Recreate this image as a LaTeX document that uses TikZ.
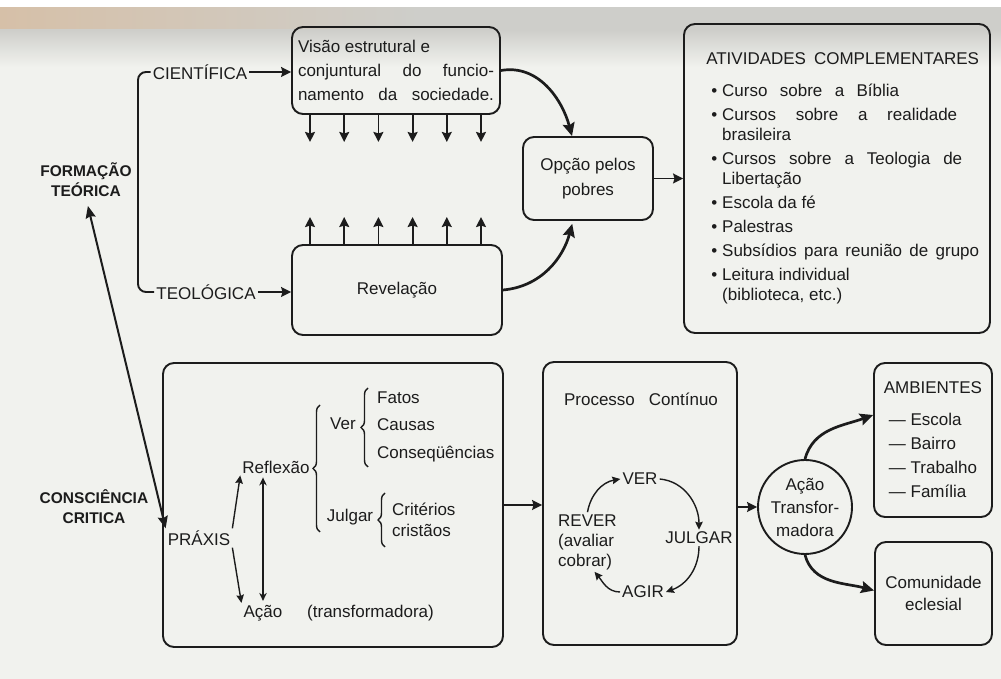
\documentclass[tikz,border=0pt]{standalone}
\usepackage{fontspec}
\setmainfont{Liberation Sans}
\usetikzlibrary{arrows.meta,positioning,calc,decorations.pathreplacing,shapes.geometric}
\definecolor{ink}{RGB}{28,28,28}
\definecolor{paper}{RGB}{241,242,238}
\definecolor{bandtan}{RGB}{214,192,168}
\definecolor{bandgray}{RGB}{206,206,202}
\newcommand{\txt}{\fontsize{17}{20}\selectfont}
\newcommand{\spread}[2]{\makebox[#1][s]{#2}}
\tikzset{
  box/.style={draw=ink, rounded corners=11pt, line width=1.9pt, inner sep=0pt,
              font=\txt, text=ink},
  lbl/.style={font=\txt, text=ink, inner sep=2pt},
  headlbl/.style={font=\fontsize{15.5}{20}\selectfont\bfseries, text=ink,
                  align=center, inner sep=1pt},
  wire/.style={draw=ink, line width=1.9pt},
  arrow/.style={-{Stealth[length=10pt,width=10pt,inset=1.5pt]}, line width=1.8pt, draw=ink},
  bigarrow/.style={-{Stealth[length=13pt,width=12pt,inset=2pt]}, line width=2.7pt, draw=ink},
  thinarrow/.style={-{Stealth[length=8pt,width=7.5pt,inset=1pt]}, line width=1.4pt, draw=ink},
  dblarrow/.style={{Stealth[length=12pt,width=10pt,inset=1.5pt]}-{Stealth[length=12pt,width=10pt,inset=1.5pt]},
                   line width=2pt, draw=ink},
  thindbl/.style={{Stealth[length=8pt,width=7.5pt]}-{Stealth[length=8pt,width=7.5pt]},
                  line width=1.5pt, draw=ink},
  curly/.style={draw=ink, line width=1.4pt, decorate, decoration={brace, amplitude=7pt}},
}

\begin{document}
\begin{tikzpicture}[x=1pt, y=1pt]

% ============================ paper ===================================
\fill[paper] (0,0) rectangle (1001,679);
\shade[left color=bandtan, right color=bandgray] (0,649) rectangle (420,672);
\fill[bandgray] (420,649) rectangle (1001,672);
\shade[top color=bandgray, bottom color=paper] (0,612) rectangle (1001,649.5);
\fill[white] (0,672) rectangle (1001,679);
\useasboundingbox (0,0) rectangle (1001,679);

% ============================ formação teórica ========================
\node[box, minimum width=208pt, minimum height=87pt, align=left] (vis) at (396,608.5)
  {Visão estrutural e\\[4pt]\spread{196pt}{conjuntural do funcio-}\\[4pt]%
   \spread{196pt}{namento da sociedade.}};
\node[box, minimum width=210pt, minimum height=90pt] (rev) at (397,389) {Revelação};

\node[lbl] (cient) at (200,607) {CIENTÍFICA};
\node[lbl] (teol) at (206,387) {TEOLÓGICA};
\node[headlbl] (form) at (86,499) {FORMAÇÃO\\TEÓRICA};

\coordinate (fork) at (138,0);
\draw[wire, rounded corners=8pt] (cient.west) -- (cient.west -| fork)
  -- (teol.west -| fork) -- (teol.west);
\draw[arrow] (cient.east) -- (cient.east -| vis.west);
\draw[arrow] (teol.east) -- (teol.east -| rev.west);

% the two sources feed each other
\foreach \k in {0,...,5} {
  \draw[arrow] ([xshift=\k*34.2pt-86pt]vis.south) -- ++(0,-27);
  \draw[arrow] ([xshift=\k*34.2pt-87pt]rev.north) -- ++(0,27);
}

\node[box, minimum width=130pt, minimum height=83pt, align=center] (opc) at (588,500.5)
  {Opção pelos\\[5pt]pobres};
\draw[bigarrow] (vis.east) to[out=10, in=105] ([xshift=-16pt]opc.north);
\draw[bigarrow, shorten >=3pt] (rev.east) to[out=5, in=-105] ([xshift=-15pt]opc.south);

% ============================ atividades ===============================
\node[box, minimum width=306pt, minimum height=309pt] (ativ) at (837,500.5) {};
\node[lbl, anchor=north west, inner sep=0pt] (ativtxt) at ([xshift=23pt,yshift=-27pt]ativ.north west)
  {\begin{tabular}{@{\hspace{5pt}}l@{\hspace{5pt}}l@{}}
   \multicolumn{2}{@{}l@{}}{ATIVIDADES\hspace{8pt}COMPLEMENTARES}\\[12pt]
   \textbullet & \spread{177pt}{Curso sobre a Bíblia}\\[4pt]
   \textbullet & \spread{235pt}{Cursos sobre a realidade}\\
               & brasileira\\[4pt]
   \textbullet & \spread{240pt}{Cursos sobre a Teologia de}\\
               & Libertação\\[4pt]
   \textbullet & Escola da fé\\[4pt]
   \textbullet & Palestras\\[4pt]
   \textbullet & \spread{257pt}{Subsídios para reunião de grupo}\\[4pt]
   \textbullet & Leitura individual\\
               & (biblioteca, etc.)
   \end{tabular}};
\draw[arrow] (opc.east) -- (ativ.west |- opc.east);

% ============================ consciência crítica =====================
\node[box, minimum width=340pt, minimum height=284pt] (pbox) at (333,174) {};
\node[headlbl] (consc) at (94,172) {CONSCIÊNCIA\\CRITICA};

\node[lbl] (prx) at (199,141) {PRÁXIS};
\node[lbl] (refl) at (276,212) {Reflexão};
\node[lbl] (acn) at (263,66) {Ação};
\node[lbl, anchor=west] (trf) at (305,66) {(transformadora)};
\node[lbl] (ver) at (343,255) {Ver};
\node[lbl, anchor=west, align=left] (vfacts) at (375,252.5)
  {Fatos\\[7.5pt]Causas\\[7.5pt]Conseqüências};
\node[lbl] (julg) at (350,162) {Julgar};
\node[lbl, anchor=west, align=left] (jcrit) at (390,159.5) {Critérios\\[1pt]cristãos};

\draw[curly] (320,147) -- (320,274);
\draw[curly] (368,212) -- (368,291);
\draw[curly] (385,132) -- (385,186);

\draw[thinarrow] (prx.north east) -- (refl.south west);
\draw[thinarrow] (prx.south east) -- (acn.north west);
\draw[thindbl, shorten >=2pt, shorten <=2pt] (acn.north |- refl.south) -- (acn.north);
\draw[dblarrow, shorten <=8pt] (form.south) -- (prx.north west);

% ============================ processo contínuo =======================
\node[box, minimum width=194pt, minimum height=283pt] (proc) at (640,175.5) {};
\node[lbl] (proct) at (641,280) {Processo\hspace{14pt}Contínuo};
\node[lbl] (cver) at (640,200) {VER};
\node[lbl] (cjul) at (699,141) {JULGAR};
\node[lbl] (cagi) at (643,87) {AGIR};
\node[lbl, anchor=west, align=left] (crev) at (556,137) {REVER\\(avaliar\\cobrar)};

\draw[thinarrow] (cver.east) to[out=-5, in=90] (cjul.north);
\draw[thinarrow] (cjul.south) to[out=-90, in=20] (cagi.east);
\draw[thinarrow] (cagi.west) to[out=180, in=-50] ([xshift=7pt]crev.south);
\draw[thinarrow] (crev.north) to[out=80, in=190] (cver.west);

\draw[arrow] (pbox.east) -- (proc.west |- pbox.east);

% ============================ ação transformadora =====================
\node[draw=ink, line width=1.9pt, circle, minimum size=94pt, inner sep=0pt,
      align=center, font=\txt, text=ink] (acao) at (805,172)
  {Ação\\[3pt]Transfor-\\[3pt]madora};
\draw[arrow] (proc.east |- acao.west) -- (acao.west);

\node[box, minimum width=118pt, minimum height=154pt, align=left] (amb) at (933,239)
  {\makebox[88pt]{AMBIENTES}\\[12pt]--- Escola\\[4pt]--- Bairro\\[4pt]--- Trabalho\\[4pt]--- Família};
\node[box, minimum width=117pt, minimum height=103pt, align=center] (com) at (933.5,85.5)
  {Comunidade\\[2pt]eclesial};

\draw[bigarrow] (acao.north) to[out=75, in=200] ([yshift=25pt]amb.west);
\draw[bigarrow] (acao.south) to[out=-75, in=165] ([yshift=3pt]com.west);

\end{tikzpicture}
\end{document}
